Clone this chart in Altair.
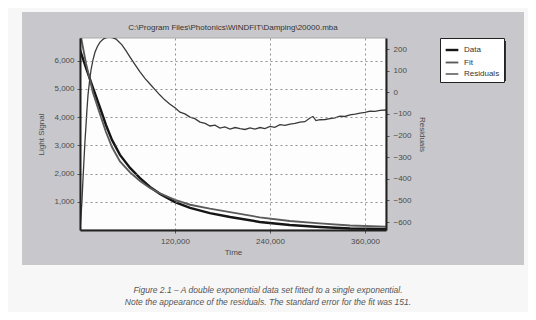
import altair as alt
import pandas as pd

# ---- data ----
series_names = ["Data", "Fit", "Residuals"]

curve_time = [0, 7600, 16400, 25300, 32800, 40400, 50500, 63200, 75800, 88400,
              101000, 120000, 139000, 164000, 189500, 227000, 265000, 303000, 341000, 386500]
data_values = [6380, 5745, 5035, 4330, 3720, 3190, 2660, 2200, 1840, 1525,
               1280, 990, 780, 600, 460, 285, 175, 105, 55, 35]
fit_values = [7020, 5900, 4865, 4100, 3470, 2940, 2430, 2040, 1735, 1490,
              1295, 1065, 895, 755, 630, 450, 320, 235, 160, 117]

resid_time = [0, 1300, 2500, 3800, 5000, 6300, 7600, 8800, 10100, 12000, 13900, 16400,
              19000, 22000, 25300, 28500, 31600, 34800, 37900, 41700, 45500, 49000, 53000,
              58000, 63200, 69500, 75800, 82000, 88400, 94700, 101000, 107000, 113700,
              120000, 126300, 132500, 138900, 145000, 151600, 158000, 164200, 170500,
              176800, 183000, 189500, 196000, 202100, 208500, 214700, 221000, 227400,
              233500, 240000, 246000, 252600, 259000, 265300, 271500, 277900, 284000,
              290500, 294300, 298000, 303200, 309500, 315800, 322000, 328400, 334500,
              341000, 347500, 353700, 360000, 366300, 372500, 379000, 386500]
resid_values = [-637, -570, -500, -400, -314, -225, -152, -80, -13, 50, 103, 150,
                186, 212, 232, 243, 251, 254, 255, 252, 246, 234, 219,
                193, 163, 128, 94, 64, 38, 12, -13, -35, -55,
                -72, -92, -100, -115, -122, -138, -144, -156, -152,
                -166, -160, -170, -163, -168, -172, -165, -170, -163,
                -168, -158, -162, -150, -153, -147, -144, -138, -136,
                -119, -112, -131, -127, -126, -122, -118, -110, -112,
                -105, -101, -96, -93, -87, -88, -84, -82]

left_ticks = [1000, 2000, 3000, 4000, 5000, 6000]
right_ticks = [-600, -500, -400, -300, -200, -100, 0, 100, 200]
time_ticks = [120000, 240000, 360000]

chart_title = ["C:\\Program Files\\Photonics\\WINDFIT\\Damping\\20000.mba"]
caption_lines = [
    "Figure 2.1 \u2013 A double exponential data set fitted to a single exponential.",
    "Note the appearance of the residuals. The standard error for the fit was 151.",
]

# ---- tables ----
curves = pd.DataFrame({
    "t": curve_time * 2,
    "value": data_values + fit_values,
    "series": ["Data"] * len(curve_time) + ["Fit"] * len(curve_time),
})
resid = pd.DataFrame({"t": resid_time, "resid": resid_values,
                      "series": ["Residuals"] * len(resid_time)})
caps = pd.DataFrame({"line": caption_lines, "row": [0, 1]})
ttl = pd.DataFrame({"line": chart_title})
one = pd.DataFrame({"k": [0]})

W, H = 306, 192
FONT = "Liberation Sans"
TXT = "#4a4a4a"

color = alt.Color("series:N",
                  scale=alt.Scale(domain=series_names, range=["#151515", "#5a5a5a", "#3a3a3a"]),
                  legend=alt.Legend(title=None, orient="none", legendX=360, legendY=0,
                                    fillColor="white", strokeColor="#222", padding=4,
                                    symbolType="stroke", symbolSize=160, symbolStrokeWidth=1.6,
                                    labelFontSize=8, labelFont=FONT, labelColor="#333",
                                    labelOffset=4, rowPadding=0, zindex=1))
swidth = alt.StrokeWidth("series:N",
                         scale=alt.Scale(domain=series_names, range=[2.4, 1.3, 1.1]),
                         legend=None)

xenc = alt.X("t:Q", scale=alt.Scale(domain=[0, 386500], nice=False, zero=False),
             axis=alt.Axis(values=time_ticks, format=",.0f", title="Time", grid=True,
                           gridDash=[2, 3], gridColor="#777", gridOpacity=0.8,
                           domainWidth=2, domainColor="#222", tickSize=3, tickColor="#555",
                           labelFontSize=8, titleFontSize=8, titleFontWeight="normal",
                           labelFont=FONT, titleFont=FONT, labelColor=TXT, titleColor=TXT,
                           labelPadding=4, titlePadding=3, zindex=1))

panel = alt.Chart(one).mark_rect(color="#c8c8cc").encode(
    x=alt.value(-58), x2=alt.value(444), y=alt.value(-26), y2=alt.value(227))
plotbg = alt.Chart(one).mark_rect(color="#fdfdfd", stroke="#aaa", strokeWidth=1).encode(
    x=alt.value(0), x2=alt.value(W), y=alt.value(0), y2=alt.value(H))
shadow = alt.Chart(one).mark_rect(color="#333").encode(
    x=alt.value(363), x2=alt.value(426), y=alt.value(3), y2=alt.value(43))

left = alt.Chart(curves).mark_line(clip=True).encode(
    x=xenc,
    y=alt.Y("value:Q", scale=alt.Scale(domain=[0, 6800], nice=False),
            axis=alt.Axis(orient="left", values=left_ticks, format=",.0f", title="Light Signal",
                          grid=True, gridDash=[2, 3], gridColor="#777", gridOpacity=0.8,
                          domainWidth=2, domainColor="#222", tickSize=3, tickColor="#555",
                          labelFontSize=8, titleFontSize=8, titleFontWeight="normal",
                          labelFont=FONT, titleFont=FONT, labelColor=TXT, titleColor=TXT,
                          labelPadding=3, titlePadding=8, zindex=1)),
    color=color, strokeWidth=swidth, detail="series:N")

right = alt.Chart(resid).mark_line(clip=True).encode(
    x=alt.X("t:Q"),
    y=alt.Y("resid:Q", scale=alt.Scale(domain=[-637, 251], nice=False, zero=False),
            axis=alt.Axis(orient="right", values=right_ticks, format=".0f", title="Residuals",
                          grid=False,
                          domainWidth=2, domainColor="#222", tickSize=3, tickColor="#555",
                          labelFontSize=8, titleFontSize=8, titleFontWeight="normal",
                          labelFont=FONT, titleFont=FONT, labelColor=TXT, titleColor=TXT,
                          labelPadding=4, titlePadding=6, titleAngle=90, zindex=1)),
    color=color, strokeWidth=swidth)

title_text = alt.Chart(ttl).mark_text(fontSize=8, font=FONT, color="#333",
                                      align="center", baseline="middle").encode(
    x=alt.value(W / 2), y=alt.value(-10), text="line:N")

captions = alt.Chart(caps).mark_text(fontSize=8.5, font=FONT, fontStyle="italic",
                                     color="#555", align="center", baseline="middle").encode(
    x=alt.value(188),
    y=alt.Y("row:Q", scale=alt.Scale(domain=[0, 1], range=[252, 264]), axis=None),
    text="line:N")

chart = alt.layer(panel, plotbg, shadow, left, right, title_text, captions).resolve_scale(
    y="independent"
).properties(
    width=W, height=H,
    autosize=alt.AutoSizeParams(type="none"),
    padding={"left": 72, "top": 30, "right": 142, "bottom": 82},
    background="#f7f7f7",
).configure_view(stroke=None)

chart.save("out.html", embed_options={"renderer": "svg", "actions": False})
